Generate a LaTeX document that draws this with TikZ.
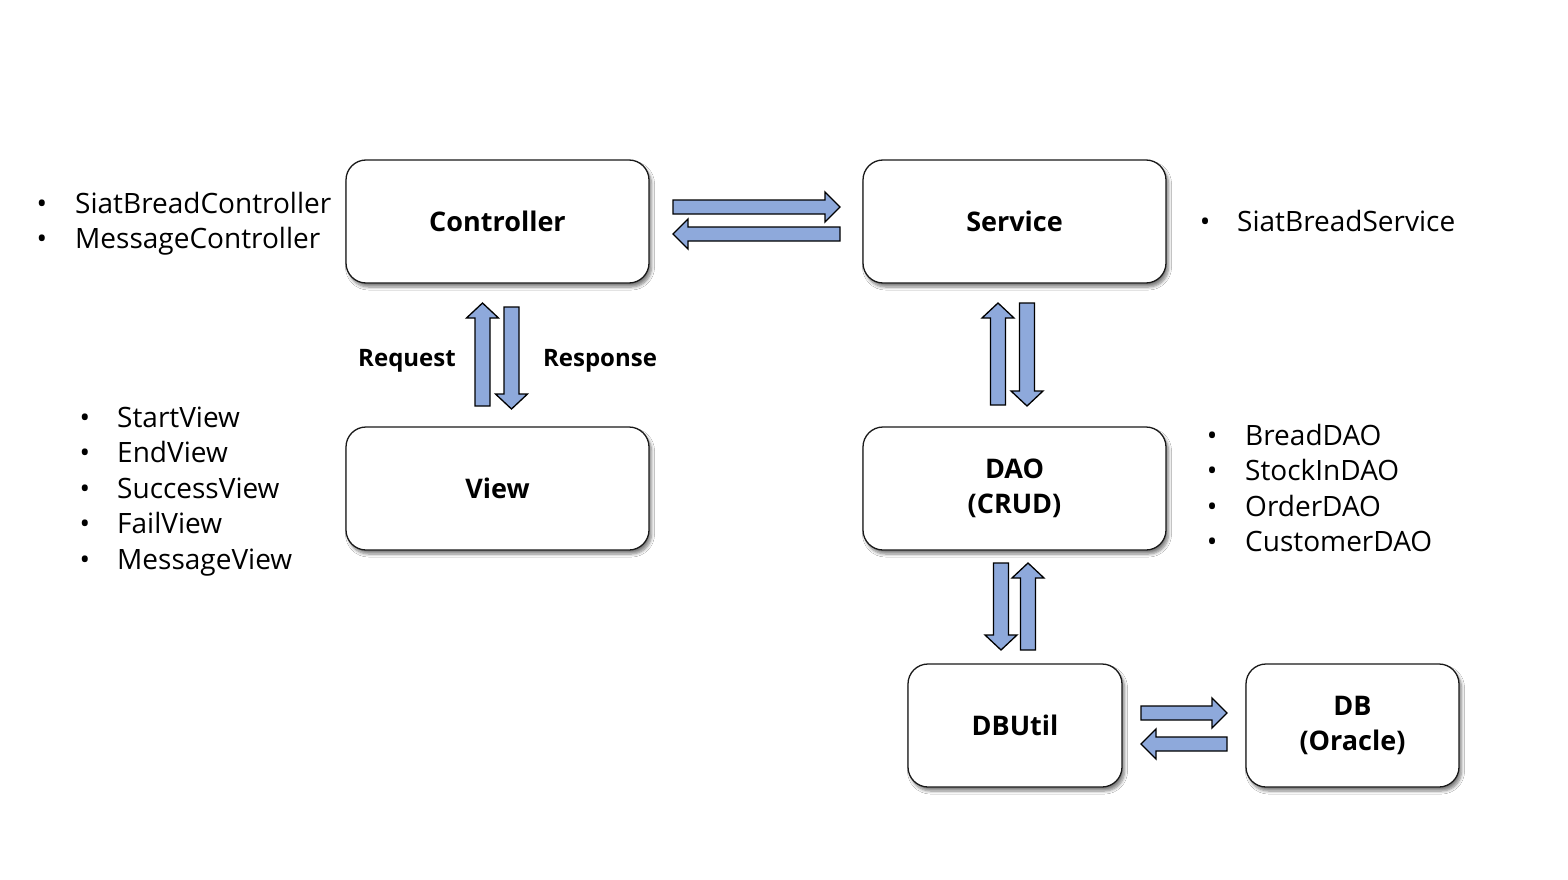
\documentclass[tikz,border=0pt]{standalone}
\usepackage{fontspec}
\setmainfont{Open Sans}
\usetikzlibrary{shadows.blur}
\definecolor{arrowblue}{RGB}{142,169,219}
\tikzset{
  box/.style={draw=black!90, line width=1.3pt, rounded corners=20pt, fill=white,
    blur shadow={shadow xshift=2.5pt, shadow yshift=-4pt, shadow blur steps=6, shadow blur radius=3pt, shadow opacity=50},
    font=\fontsize{27}{35}\selectfont\bfseries, align=center},
  blk/.style={draw=black, line width=1.3pt, fill=arrowblue, line join=miter},
  item/.style={anchor=base west, inner sep=0pt, font=\fontsize{28}{34}\selectfont},
  bul/.style={anchor=base, inner sep=0pt, font=\fontsize{28}{34}\selectfont},
  lbl/.style={font=\fontsize{24}{30}\selectfont\bfseries, inner sep=0pt}
}
% right arrow: tail x, tip x, y center
\newcommand\RArr[3]{\draw[blk] (#1,#3-7) -- (#2-15,#3-7) -- (#2-15,#3-15) -- (#2,#3) -- (#2-15,#3+15) -- (#2-15,#3+7) -- (#1,#3+7) -- cycle;}
% left arrow: tip x, tail x, y center
\newcommand\LArr[3]{\draw[blk] (#2,#3-7) -- (#1+15,#3-7) -- (#1+15,#3-15) -- (#1,#3) -- (#1+15,#3+15) -- (#1+15,#3+7) -- (#2,#3+7) -- cycle;}
% up arrow: x center, tip y, tail y
\newcommand\UArr[3]{\draw[blk] (#1-7.5,#3) -- (#1-7.5,#2+15) -- (#1-16,#2+15) -- (#1,#2) -- (#1+16,#2+15) -- (#1+7.5,#2+15) -- (#1+7.5,#3) -- cycle;}
% down arrow: x center, tail y, tip y
\newcommand\DArr[3]{\draw[blk] (#1-7.5,#2) -- (#1-7.5,#3-15) -- (#1-16,#3-15) -- (#1,#3) -- (#1+16,#3-15) -- (#1+7.5,#3-15) -- (#1+7.5,#2) -- cycle;}
\begin{document}
\begin{tikzpicture}[x=1pt,y=-1pt]
\useasboundingbox[fill=white] (0,0) rectangle (1568,880);
% boxes
\node[box, minimum width=303pt, minimum height=123pt] (ctrl) at (497.5,221.5) {Controller};
\node[box, minimum width=303pt, minimum height=123pt] (svc) at (1014.5,221.5) {Service};
\node[box, minimum width=303pt, minimum height=123pt] (view) at (497.5,488.5) {View};
\node[box, minimum width=303pt, minimum height=123pt] (dao) at (1014.5,488.5) {DAO\\(CRUD)};
\node[box, minimum width=214pt, minimum height=123pt] (dbu) at (1015,725.5) {DBUtil};
\node[box, minimum width=213pt, minimum height=123pt] (db) at (1352.5,725.5) {DB\\(Oracle)};
% block arrows
\RArr{673}{840}{207}
\LArr{673}{840}{234}
\UArr{482.5}{303}{406}
\DArr{511.5}{307}{409}
\UArr{998}{303}{405}
\DArr{1027}{303}{406}
\DArr{1001}{563}{650}
\UArr{1028}{563}{650}
\RArr{1141}{1227}{713}
\LArr{1141}{1227}{744}
% labels
\node[lbl] (req) at (407,361) {Request};
\node[lbl] (resp) at (600,361) {Response};
% lists
\node[bul] (b1) at (42,213) {•};
\node[item] (t1) at (75,213) {SiatBreadController};
\node[bul] (b2) at (42,248) {•};
\node[item] (t2) at (75,248) {MessageController};
\node[bul] (b3) at (1205,231) {•};
\node[item] (t3) at (1237,231) {SiatBreadService};
\node[bul] (v1) at (85,427) {•};
\node[item] (vt1) at (117,427) {StartView};
\node[bul] (v2) at (85,462) {•};
\node[item] (vt2) at (117,462) {EndView};
\node[bul] (v3) at (85,498) {•};
\node[item] (vt3) at (117,498) {SuccessView};
\node[bul] (v4) at (85,533) {•};
\node[item] (vt4) at (117,533) {FailView};
\node[bul] (v5) at (85,569) {•};
\node[item] (vt5) at (117,569) {MessageView};
\node[bul] (d1) at (1212,445) {•};
\node[item] (dt1) at (1245,445) {BreadDAO};
\node[bul] (d2) at (1212,480) {•};
\node[item] (dt2) at (1245,480) {StockInDAO};
\node[bul] (d3) at (1212,516) {•};
\node[item] (dt3) at (1245,516) {OrderDAO};
\node[bul] (d4) at (1212,551) {•};
\node[item] (dt4) at (1245,551) {CustomerDAO};
\end{tikzpicture}
\end{document}
